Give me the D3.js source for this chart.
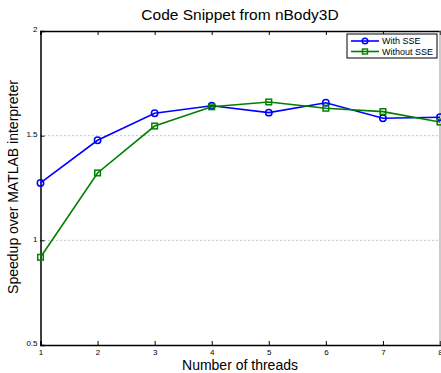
<!DOCTYPE html>
<html><head><meta charset="utf-8">
<script src="https://cdn.jsdelivr.net/npm/d3@7"></script>
<style>body{margin:0;background:#fff;}svg{display:block;font-family:"Liberation Sans",Arial,Helvetica,sans-serif;}</style>
</head><body>
<script>
const threads = [1,2,3,4,5,6,7,8];
const withSSE = [1.274,1.478,1.607,1.643,1.610,1.657,1.583,1.588];
const withoutSSE = [0.919,1.322,1.546,1.638,1.661,1.631,1.615,1.565];
const yTicks = [0.5,1,1.5,2];
const yTickLabels = ["0.5","1","1.5","2"];
const gridValues = [1,1.5];
const seriesNames = ["With SSE","Without SSE"];
const seriesColors = ["#0000ff","#008000"];

const W=441,H=373;
const m={left:40.5,right:1,top:31,bottom:28};
const svg=d3.select("body").append("svg").attr("width",W).attr("height",H);
const x=d3.scaleLinear().domain([1,8]).range([m.left,W-m.right]);
const y=d3.scaleLinear().domain([0.5,2]).range([H-m.bottom,m.top]);

// grid
svg.append("g").selectAll("line").data(gridValues).join("line")
  .attr("x1",x(1)).attr("x2",x(8)).attr("y1",d=>y(d)).attr("y2",d=>y(d))
  .attr("stroke","#888").attr("stroke-width",1).attr("stroke-dasharray","1,3");

// axes
const xAxis=d3.axisBottom(x).tickValues(threads).tickSize(-4).tickPadding(4).tickFormat(d3.format("d"));
const gx=svg.append("g").attr("transform",`translate(0,${y(0.5)})`).call(xAxis);
const yAxis=d3.axisLeft(y).tickValues(yTicks).tickSize(-4).tickPadding(3).tickFormat((d,i)=>yTickLabels[i]);
const gy=svg.append("g").attr("transform",`translate(${x(1)},0)`).call(yAxis);
const xTop=d3.axisTop(x).tickValues(threads).tickSize(-4).tickFormat("");
const gxt=svg.append("g").attr("transform",`translate(0,${y(2)})`).call(xTop);
[gx,gy,gxt].forEach(g=>{
  g.select(".domain").attr("stroke","#000").attr("stroke-width",1.5);
  g.selectAll(".tick line").attr("stroke","#000");
  g.selectAll("text").attr("font-size",8).attr("fill","#000").attr("font-family","Liberation Sans, Arial, sans-serif");
});
gy.selectAll(".tick text").attr("dy","0.1em");
// right border
svg.append("line").attr("x1",x(8)).attr("x2",x(8)).attr("y1",y(2)).attr("y2",y(0.5)).attr("stroke","#999").attr("stroke-width",1);

// lines
const line=d3.line().x((d,i)=>x(threads[i])).y(d=>y(d));
const allSeries=[withSSE,withoutSSE];
allSeries.forEach((s,k)=>{
  svg.append("path").datum(s).attr("d",line).attr("fill","none")
    .attr("stroke",seriesColors[k]).attr("stroke-width",1.6);
});
// markers
svg.append("g").selectAll("circle").data(withSSE).join("circle")
  .attr("cx",(d,i)=>x(threads[i])).attr("cy",d=>y(d)).attr("r",3.2)
  .attr("fill","none").attr("stroke",seriesColors[0]).attr("stroke-width",1.5);
svg.append("g").selectAll("rect").data(withoutSSE).join("rect")
  .attr("x",(d,i)=>x(threads[i])-2.8).attr("y",d=>y(d)-2.8).attr("width",5.6).attr("height",5.6)
  .attr("fill","none").attr("stroke",seriesColors[1]).attr("stroke-width",1.5);

// title & labels
svg.append("text").attr("x",240).attr("y",20).attr("text-anchor","middle")
  .attr("font-size",15.5).text("Code Snippet from nBody3D");
svg.append("text").attr("x",240).attr("y",370).attr("text-anchor","middle")
  .attr("font-size",14).text("Number of threads");
svg.append("text").attr("transform","translate(18,187) rotate(-90)").attr("text-anchor","middle")
  .attr("font-size",14).text("Speedup over MATLAB interpreter");

// legend
const lg=svg.append("g").attr("transform","translate(347,34)");
lg.append("rect").attr("width",90).attr("height",24).attr("fill","#fff").attr("stroke","#000").attr("stroke-width",1);
seriesNames.forEach((n,k)=>{
  const yy=7+k*10.5;
  lg.append("line").attr("x1",4).attr("x2",32).attr("y1",yy).attr("y2",yy).attr("stroke",seriesColors[k]).attr("stroke-width",1.6);
  if(k===0) lg.append("circle").attr("cx",18).attr("cy",yy).attr("r",2.8).attr("fill","none").attr("stroke",seriesColors[k]).attr("stroke-width",1.4);
  else lg.append("rect").attr("x",15.5).attr("y",yy-2.5).attr("width",5).attr("height",5).attr("fill","none").attr("stroke",seriesColors[k]).attr("stroke-width",1.4);
  lg.append("text").attr("x",35).attr("y",yy+3).attr("font-size",9).text(n);
});
</script>
</body></html>
